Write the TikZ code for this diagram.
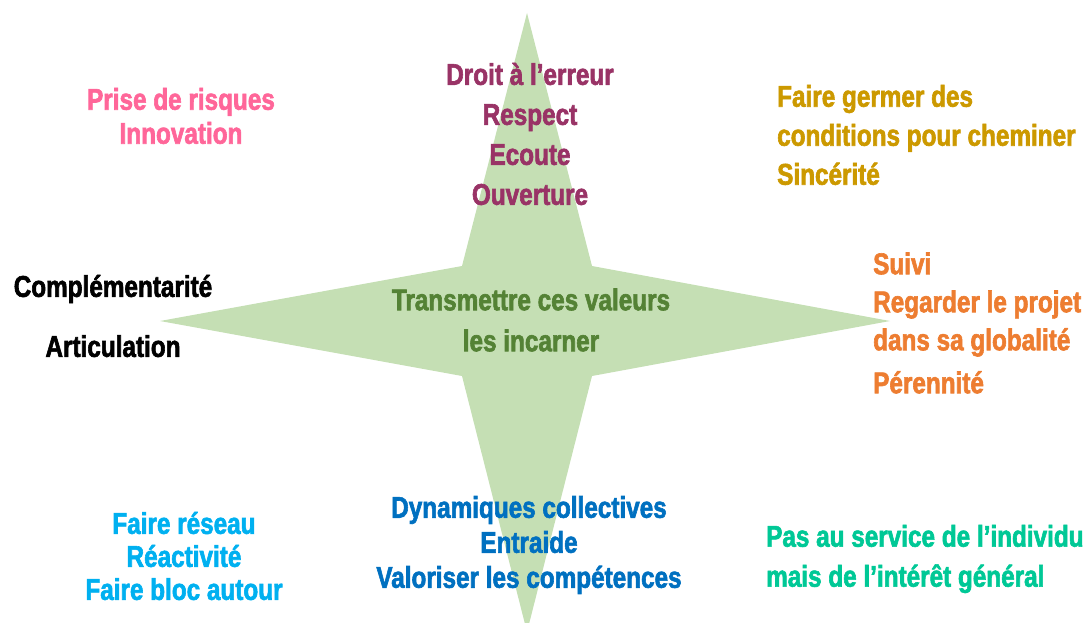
\documentclass[tikz,border=0pt]{standalone}
\usepackage{fontspec}
\newfontfamily\valfont{Liberation Sans}[FakeStretch=0.81,FakeBold=2]
\definecolor{etoilevert}{HTML}{C5DFB4}
\definecolor{prune}{HTML}{993366}
\definecolor{rose}{HTML}{FF6699}
\definecolor{ocre}{HTML}{CC9900}
\definecolor{orange}{HTML}{ED7D31}
\definecolor{vertfonce}{HTML}{548235}
\definecolor{ciel}{HTML}{00B0F0}
\definecolor{bleu}{HTML}{0070C0}
\definecolor{turquoise}{HTML}{00C896}
\tikzset{
  valeur/.style={font=\valfont\bfseries\fontsize{30}{#1}\selectfont,inner sep=0pt,align=center},
  gauche/.style={align=left,anchor=west}
}
\begin{document}
\begin{tikzpicture}[x=1pt,y=-1pt]
\pgfmathsetmacro{\kx}{527}
\pgfmathsetmacro{\ky}{321}
\pgfmathsetmacro{\kdx}{65}
\pgfmathsetmacro{\kdy}{55}
\useasboundingbox (0,0) rectangle (1091,623);
%four pointed star
\fill[etoilevert](\kx,13)--(\kx+\kdx,\ky-\kdy)--(890,\ky)--(\kx+\kdx,\ky+\kdy)--(\kx,632)--(\kx-\kdx,\ky+\kdy)--(160,\ky)--(\kx-\kdx,\ky-\kdy)--cycle;
%texts round the star
\node[valeur=40,text=prune](haut) at (530,134){Droit à l’erreur\\Respect\\Ecoute\\Ouverture};
\node[valeur=41,text=vertfonce](centre) at (531,320){Transmettre ces valeurs\\les incarner};
\node[valeur=34,text=rose](risques) at (181,116){Prise de risques\\Innovation};
\node[valeur=40,text=black](articulation) at (113,316){Complémentarité\\[20pt]Articulation};
\node[valeur=39,gauche,text=ocre](germer) at (777,135){Faire germer des\\conditions pour cheminer\\Sincérité};
\node[valeur=38,gauche,text=orange](suivi) at (873,323){Suivi\\Regarder le projet\\dans sa globalité\\[5pt]Pérennité};
\node[valeur=33,text=ciel](reseau) at (184,556){Faire réseau\\Réactivité\\Faire bloc autour};
\node[valeur=35,text=bleu](entraide) at (529,545){Dynamiques collectives\\Entraide\\Valoriser les compétences};
\node[valeur=40,gauche,text=turquoise](service) at (766,559){Pas au service de l’individu\\mais de l’intérêt général};
\end{tikzpicture}
\end{document}
